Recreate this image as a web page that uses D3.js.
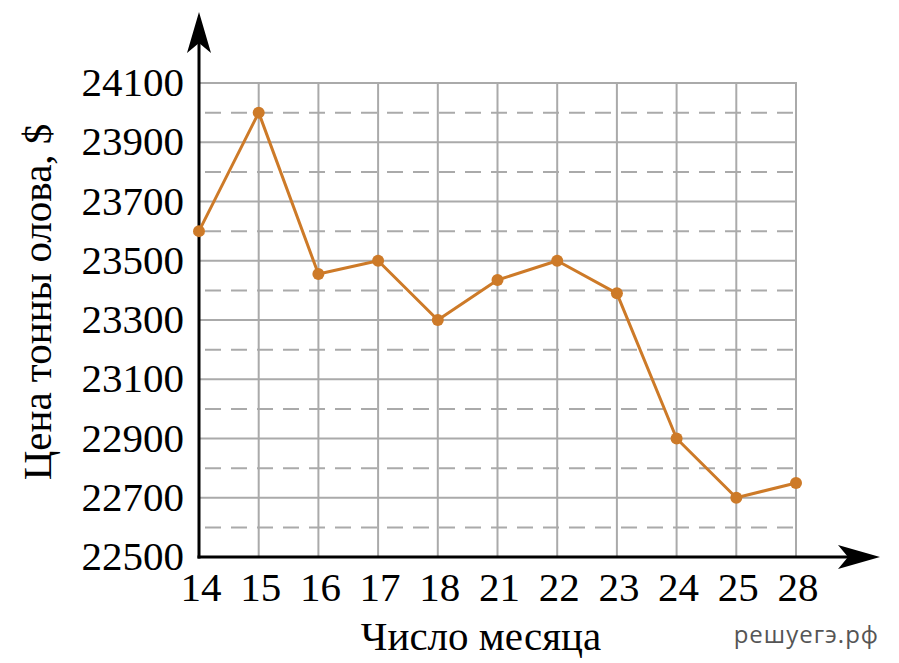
<!DOCTYPE html>
<html>
<head>
<meta charset="utf-8">
<script src="https://cdn.jsdelivr.net/npm/d3@7"></script>
<style>
  html, body { margin: 0; padding: 0; background: #fff; }
  svg { display: block; }
</style>
</head>
<body>
<svg id="chart" width="899" height="663"></svg>
<script>
const days = ["14", "15", "16", "17", "18", "21", "22", "23", "24", "25", "28"];
const prices = [23600, 24000, 23455, 23500, 23300, 23435, 23500, 23390, 22900, 22700, 22750];
const yTicks = [22500, 22700, 22900, 23100, 23300, 23500, 23700, 23900, 24100];
const yDashed = [22600, 22800, 23000, 23200, 23400, 23600, 23800, 24000];
const xTitle = "Число месяца";
const yTitle = "Цена тонны олова, $";
const watermark = "решуегэ.рф";

const svg = d3.select("#chart");
const x0 = 199, x1 = 796, yB = 557, yT = 83;
const x = d3.scalePoint().domain(days).range([x0, x1]).padding(0);
const y = d3.scaleLinear().domain([22500, 24100]).range([yB, yT]);

const grid = svg.append("g");
grid.selectAll("line.dash").data(yDashed).join("line")
  .attr("x1", x0 + 2).attr("x2", x1)
  .attr("y1", d => y(d)).attr("y2", d => y(d))
  .attr("stroke", "#aaaaaa").attr("stroke-width", 2)
  .attr("stroke-dasharray", "16,10").attr("stroke-dashoffset", -4);
grid.selectAll("line.solid").data(yTicks.slice(1)).join("line")
  .attr("x1", x0).attr("x2", x1)
  .attr("y1", d => y(d)).attr("y2", d => y(d))
  .attr("stroke", "#aaaaaa").attr("stroke-width", 2);
grid.selectAll("line.v").data(days.slice(1)).join("line")
  .attr("x1", d => x(d)).attr("x2", d => x(d))
  .attr("y1", yB).attr("y2", yT - 1)
  .attr("stroke", "#aaaaaa").attr("stroke-width", 2);

svg.append("line").attr("x1", x0).attr("x2", x0).attr("y1", yB + 1.5).attr("y2", 30)
  .attr("stroke", "#000").attr("stroke-width", 3);
svg.append("line").attr("x1", x0 - 1.5).attr("x2", 860).attr("y1", yB).attr("y2", yB)
  .attr("stroke", "#000").attr("stroke-width", 3);
svg.append("path")
  .attr("d", `M${x0},12 L${x0 + 12},53 L${x0},43 L${x0 - 12},53 Z`)
  .attr("fill", "#000");
svg.append("path")
  .attr("d", `M880,${yB} L838,${yB - 12} L848,${yB} L838,${yB + 12} Z`)
  .attr("fill", "#000");

const serif = "'Liberation Serif', 'Times New Roman', serif";
const fs = 41;
svg.append("g").selectAll("text").data(yTicks).join("text")
  .attr("x", 184).attr("y", d => y(d) + 13)
  .attr("text-anchor", "end")
  .attr("font-family", serif).attr("font-size", fs)
  .attr("fill", "#000")
  .text(d => d);
svg.append("g").selectAll("text").data(days).join("text")
  .attr("x", d => x(d) + 2).attr("y", 601)
  .attr("text-anchor", "middle")
  .attr("font-family", serif).attr("font-size", fs)
  .attr("fill", "#000")
  .text(d => d);

svg.append("text").attr("x", 481).attr("y", 650)
  .attr("text-anchor", "middle").attr("font-family", serif).attr("font-size", fs)
  .text(xTitle);
svg.append("text").attr("transform", "translate(51,302) rotate(-90)")
  .attr("text-anchor", "middle").attr("font-family", serif).attr("font-size", fs)
  .text(yTitle);

const color = "#cd7a28";
svg.append("path")
  .datum(prices)
  .attr("fill", "none").attr("stroke", color).attr("stroke-width", 3)
  .attr("stroke-linejoin", "round")
  .attr("d", d3.line().x((d, i) => x(days[i])).y(d => y(d)));
svg.append("g").selectAll("circle").data(prices).join("circle")
  .attr("cx", (d, i) => x(days[i])).attr("cy", d => y(d)).attr("r", 6)
  .attr("fill", color);

svg.append("text").attr("x", 879).attr("y", 643)
  .attr("text-anchor", "end").attr("font-family", "'Open Sans', 'DejaVu Sans', sans-serif")
  .attr("font-size", 24).attr("fill", "#555").attr("letter-spacing", 1)
  .text(watermark);
</script>
</body>
</html>
